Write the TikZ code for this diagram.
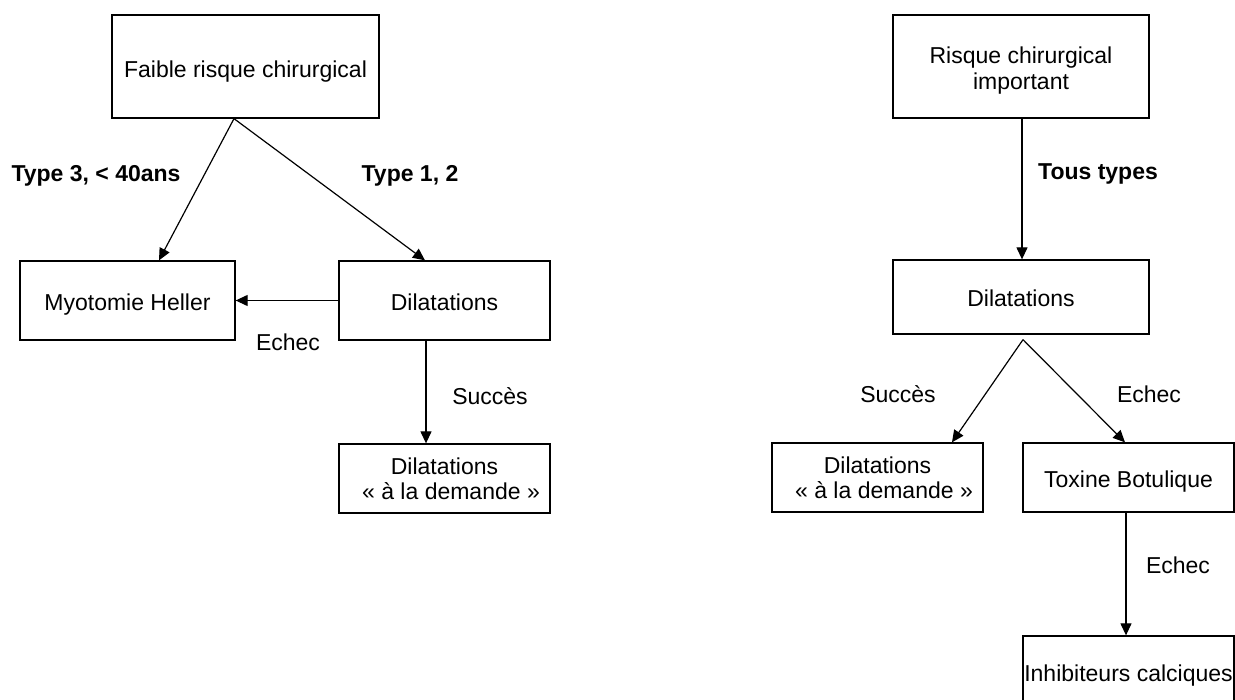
\documentclass[tikz,border=0pt]{standalone}
\usepackage{fontspec}
\setmainfont{Liberation Sans}
\usetikzlibrary{arrows.meta}
\newcommand\bxt[2]{\raisebox{#1}[\height][\depth]{\begin{tabular}{@{}c@{}}#2\end{tabular}}}
\tikzset{
  box/.style={draw=black, line width=1.3pt, inner sep=0pt, align=center,
    font=\fontsize{23pt}{26pt}\selectfont},
  lbl/.style={inner sep=0pt, font=\fontsize{23pt}{25pt}\selectfont},
  blbl/.style={inner sep=0pt, font=\fontsize{23pt}{25pt}\selectfont\bfseries},
  conn/.style={line width=1.2pt, -{Triangle[length=12pt,width=11pt]}}
}
\begin{document}
\begin{tikzpicture}[x=1pt,y=-1pt]
\useasboundingbox (0,0) rectangle (1235,700);
% left tree
\node[box, minimum width=267pt, minimum height=103pt] (faible) at (245.5,66.5) {\bxt{-6pt}{Faible risque chirurgical}};
\node[box, minimum width=215pt, minimum height=79pt] (myo) at (127.5,300.5) {\bxt{-5pt}{Myotomie Heller}};
\node[box, minimum width=211pt, minimum height=79pt] (dil1) at (444.5,300.5) {\bxt{-5pt}{Dilatations}};
\node[box, minimum width=211pt, minimum height=69pt] (dem1) at (444.5,478.5) {Dilatations\\[-1pt]\hspace*{13pt}« à la demande »};
% right tree
\node[box, minimum width=256pt, minimum height=103pt] (risque) at (1021,66.5) {\bxt{-5pt}{Risque chirurgical\\important}};
\node[box, minimum width=256pt, minimum height=74pt] (dil2) at (1021,297) {\bxt{-4pt}{Dilatations}};
\node[box, minimum width=211pt, minimum height=69pt] (dem2) at (877.5,477.5) {Dilatations\\[-1pt]\hspace*{13pt}« à la demande »};
\node[box, minimum width=211pt, minimum height=69pt] (tox) at (1128.5,477.5) {\bxt{-5pt}{Toxine Botulique}};
\node[box, minimum width=211pt, minimum height=74pt] (inh) at (1128.5,673) {\bxt{-3pt}{Inhibiteurs calciques}};
% labels
\node[blbl] (l1) at (96,176) {Type 3, < 40ans};
\node[blbl] (l2) at (410,176) {Type 1, 2};
\node[lbl] (l3) at (288,342) {Echec};
\node[lbl] (l4) at (490,396) {Succès};
\node[blbl] (l5) at (1098,174) {Tous types};
\node[lbl] (l6) at (898,394) {Succès};
\node[lbl] (l7) at (1149,394) {Echec};
\node[lbl] (l8) at (1178,565) {Echec};
% connectors
\draw[conn] ([xshift=-11.5pt]faible.south) -- ([xshift=31.5pt]myo.north);
\draw[conn] ([xshift=-11.5pt]faible.south) -- ([xshift=-19.5pt]dil1.north);
\draw[conn] (dil1.west) -- (myo.east);
\draw[conn] ([xshift=-18.5pt]dil1.south) -- ([xshift=-18.5pt]dem1.north);
\draw[conn] ([xshift=1pt]risque.south) -- ([xshift=1pt]dil2.north);
\draw[conn] ([xshift=2pt,yshift=-5pt]dil2.south) -- ([xshift=74.5pt]dem2.north);
\draw[conn] ([xshift=2pt,yshift=-5pt]dil2.south) -- ([xshift=-3.5pt]tox.north);
\draw[conn] ([xshift=-2.5pt]tox.south) -- ([xshift=-2.5pt]inh.north);
\end{tikzpicture}
\end{document}
